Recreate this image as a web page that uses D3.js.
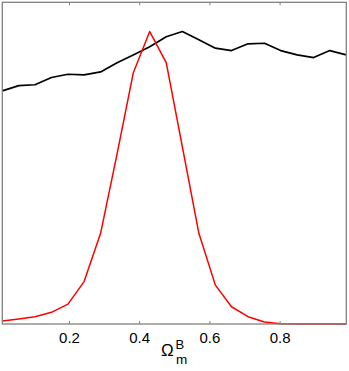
<!DOCTYPE html>
<html><head><meta charset="utf-8">
<script src="https://cdn.jsdelivr.net/npm/d3@7"></script>
<style>html,body{margin:0;padding:0;background:#fff;}</style>
</head><body>
<svg id="c" width="349" height="371"></svg>
<script>
const xValues = [0.010,0.057,0.103,0.150,0.197,0.243,0.290,0.337,0.383,0.430,0.477,0.523,0.570,0.617,0.663,0.710,0.757,0.803,0.850,0.897,0.943,0.990];
const blackSeries = [0.797,0.815,0.818,0.843,0.854,0.852,0.862,0.893,0.920,0.948,0.982,1.000,0.972,0.943,0.935,0.958,0.960,0.935,0.920,0.911,0.935,0.920];
const redSeries = [0.010,0.017,0.025,0.040,0.068,0.145,0.310,0.582,0.858,1.000,0.894,0.606,0.310,0.133,0.059,0.025,0.007,0.001,0,0,0,0];
const xTicks = [0.2,0.4,0.6,0.8];
const xTickLabels = ["0.2","0.4","0.6","0.8"];

(function(){
const svg = d3.select("#c");
const L=2.3, R=346.3, T=2.3, B=324;
const x = d3.scaleLinear().domain([0.01,0.99]).range([L,R]);
const y = d3.scaleLinear().domain([0,1.1]).range([B,T]);

const line = d3.line().x((d,i)=>x(xValues[i])).y(d=>y(d));
svg.append("path").datum(blackSeries).attr("d",line).attr("fill","none").attr("stroke","#000").attr("stroke-width",1.7).attr("stroke-linejoin","round");
svg.append("path").datum(redSeries).attr("d",line).attr("fill","none").attr("stroke","#ff0000").attr("stroke-width",1.5).attr("stroke-linejoin","round");

const grey="#808080";
svg.append("rect").attr("x",L).attr("y",T).attr("width",R-L).attr("height",B-T).attr("fill","none").attr("stroke",grey).attr("stroke-width",1.3);

const bottomAxis = d3.axisBottom(x).tickValues(xTicks).tickFormat((d,i)=>xTickLabels[i]).tickSizeInner(-3).tickSizeOuter(0).tickPadding(8);
const gb = svg.append("g").attr("transform",`translate(0,${B})`).call(bottomAxis);
gb.select(".domain").remove();
gb.selectAll("line").attr("stroke",grey);
gb.selectAll("text").attr("font-family","Liberation Sans, Arial, sans-serif").attr("font-size",15).attr("fill","#000").attr("dy","0.71em");

const topAxis = d3.axisTop(x).tickValues(xTicks).tickFormat("").tickSizeInner(-3).tickSizeOuter(0);
const gt = svg.append("g").attr("transform",`translate(0,${T})`).call(topAxis);
gt.select(".domain").remove();
gt.selectAll("line").attr("stroke",grey);

const lab = svg.append("text").attr("font-family","Liberation Sans, Arial, sans-serif").attr("fill","#000");
lab.append("tspan").attr("x",161).attr("y",356).attr("font-size",17).text("Ω");
lab.append("tspan").attr("x",175.5).attr("y",348.5).attr("font-size",13).text("B");
lab.append("tspan").attr("x",176).attr("y",364).attr("font-size",13.5).text("m");
})();
</script>
</body></html>
